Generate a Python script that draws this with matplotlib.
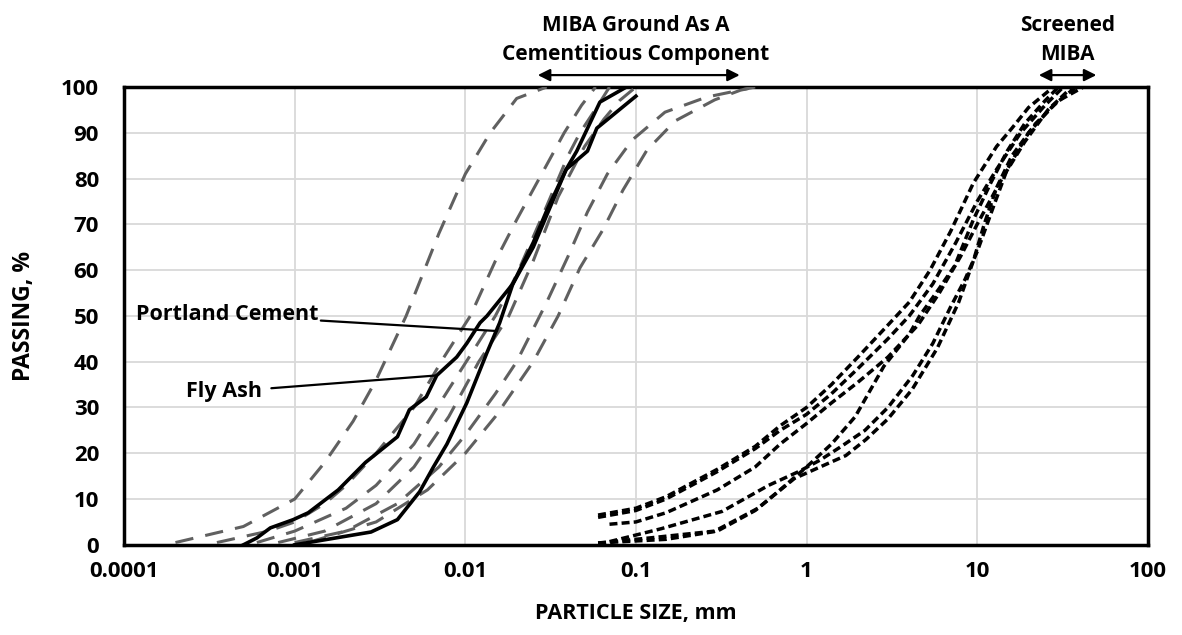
import numpy as np
import matplotlib.pyplot as plt

plt.rcParams['font.family'] = ['Open Sans', 'DejaVu Sans']
plt.rcParams['font.weight'] = 'bold'

# particle size (mm) / passing (%) pairs
portland_x = [0.001, 0.0028, 0.004, 0.0054, 0.0065, 0.0078, 0.0102, 0.0134, 0.0159, 0.019, 0.025, 0.03, 0.039, 0.045, 0.0615, 0.088]
portland_y = [0, 2.8, 5.5, 11.6, 17, 22, 31, 42, 48.5, 57, 66, 73, 82, 86, 96.7, 100]
flyash_x = [0.0005, 0.0006, 0.00072, 0.00098, 0.0012, 0.0018, 0.0026, 0.004, 0.0047, 0.0059, 0.0068, 0.0089, 0.0102, 0.0122, 0.0134, 0.019, 0.025, 0.03, 0.039, 0.052, 0.059, 0.1]
flyash_y = [0, 1.5, 3.7, 5.5, 7, 12, 18, 23.6, 29.5, 32.3, 37, 41, 44, 48.5, 50, 57, 65, 72, 82, 86, 91, 98]

ground_x = [
    [0.0002, 0.0005, 0.001, 0.0015, 0.0022, 0.003, 0.0045, 0.007, 0.01, 0.014, 0.02, 0.03],
    [0.00035, 0.0007, 0.001, 0.0015, 0.002, 0.003, 0.005, 0.0075, 0.0107, 0.015, 0.02, 0.03, 0.038, 0.048, 0.058],
    [0.0006, 0.001, 0.002, 0.003, 0.005, 0.008, 0.015, 0.02, 0.03, 0.04, 0.047, 0.06, 0.07],
    [0.0008, 0.0015, 0.003, 0.005, 0.008, 0.012, 0.018, 0.025, 0.035, 0.05, 0.065, 0.08, 0.1],
    [0.001, 0.002, 0.004, 0.007, 0.01, 0.015, 0.02, 0.03, 0.04, 0.052, 0.068, 0.095, 0.148, 0.26, 0.5],
    [0.0012, 0.003, 0.006, 0.01, 0.015, 0.025, 0.035, 0.047, 0.064, 0.084, 0.116, 0.17, 0.29, 0.41, 0.5],
]
ground_y = [
    [0.5, 4, 10, 18, 27, 36, 50, 68, 81, 90, 97.5, 100],
    [0.5, 3, 5, 9, 13, 20, 30, 41, 50, 62, 71, 83, 90, 96, 100],
    [0.5, 3, 8, 13, 22, 34, 50, 59, 74, 85, 90, 96, 100],
    [0.5, 3, 9, 17, 28, 40, 50, 62, 76, 87, 93, 97, 100],
    [0.5, 3, 9, 17, 24, 33, 40, 53, 63, 72.7, 81, 88.4, 94.5, 97.8, 100],
    [0.5, 5, 12, 20, 28, 40, 50, 60.5, 68.8, 77.5, 86.2, 92.6, 97.2, 99.3, 100],
]

screened_x = [
    [0.06, 0.1, 0.15, 0.3, 0.5, 0.7, 1, 1.4, 2, 3, 4, 5.3, 7, 9.5, 13, 16, 20, 28],
    [0.06, 0.1, 0.15, 0.3, 0.5, 0.7, 1, 1.4, 2, 3, 4, 5.5, 7.5, 10, 13, 18, 25, 32],
    [0.07, 0.1, 0.15, 0.3, 0.5, 0.7, 1, 1.4, 2, 3, 4.5, 6, 8, 10, 14, 19, 26, 36],
    [0.06, 0.15, 0.3, 0.5, 0.7, 1, 1.4, 1.93, 2.84, 4, 4.6, 6, 7.4, 9.5, 12, 15, 19, 25, 30],
    [0.07, 0.14, 0.32, 0.6, 0.9, 1.2, 1.6, 2.2, 3, 4.2, 5.5, 7, 8.5, 10, 12.5, 15, 20, 28, 38],
    [0.06, 0.12, 0.29, 0.52, 0.85, 1.2, 1.7, 2.23, 3, 4.17, 5.85, 7.8, 9.5, 11, 13, 16, 22, 30, 42],
]
screened_y = [
    [6.5, 8, 10.5, 16.5, 21.5, 26, 30, 35, 41, 48, 53, 60, 68.5, 79, 87, 91, 95.5, 100],
    [6, 7.5, 10, 16, 21, 25, 28.5, 33, 38.5, 45, 50, 57, 66, 75, 82, 90, 96, 100],
    [4.5, 5, 7, 12, 17, 22, 26.5, 31, 35.5, 41, 48, 55, 63, 70, 80, 88, 95, 100],
    [0.4, 1.2, 3, 7.5, 12, 17, 22, 28, 39, 46, 50, 56, 61, 71, 79, 86, 92, 97, 100],
    [0.7, 3.5, 7.3, 13, 16, 18.5, 21.5, 25, 30, 37, 44, 52, 58, 64, 74, 82, 90, 96, 100],
    [0.4, 1.5, 3, 8, 14.5, 17, 19.5, 23, 27.5, 34, 43, 53, 62, 70, 78, 85, 92, 97, 100],
]

fig = plt.figure(figsize=(11.82, 6.35), dpi=100)
ax = fig.add_axes([0.105, 0.142, 0.866, 0.721])

for gx, gy in zip(ground_x, ground_y):
    ax.plot(gx, gy, color="#606060", lw=2.2, dashes=(6, 4), zorder=3)
for sx, sy in zip(screened_x, screened_y):
    ax.plot(sx, sy, color="black", lw=2.5, dashes=(2.3, 1.2), zorder=3)
ax.plot(portland_x, portland_y, color="black", lw=2.6, zorder=4)
ax.plot(flyash_x, flyash_y, color="black", lw=2.6, zorder=4)

ax.set_xscale("log")
ax.set_xlim(0.0001, 100)
ax.set_ylim(0, 100)
ax.set_yticks(range(0, 101, 10))
ax.set_xticks([0.0001, 0.001, 0.01, 0.1, 1, 10, 100])
ax.set_xticklabels(["0.0001", "0.001", "0.01", "0.1", "1", "10", "100"])
ax.minorticks_off()
ax.tick_params(length=0, labelsize=16)
ax.tick_params(axis="x", pad=12)
ax.tick_params(axis="y", pad=18)
for lab in ax.get_xticklabels() + ax.get_yticklabels():
    lab.set_fontweight("bold")
ax.grid(True, color="#d9d9d9", lw=1.3, zorder=0)
ax.set_axisbelow(True)
for s in ax.spines.values():
    s.set_linewidth(2.5)

ax.set_xlabel("PARTICLE SIZE, mm", fontsize=15.5, fontweight="bold")
ax.set_ylabel("PASSING, %", fontsize=16.5, fontweight="bold")
ax.xaxis.set_label_coords(0.5, -0.128)
ax.yaxis.set_label_coords(-0.086, 0.5)

# leaders
ax.annotate("Portland Cement", xy=(0.0153, 46.7), xytext=(0.00137, 50.2),
            ha="right", va="center", fontsize=15.5, fontweight="bold",
            arrowprops=dict(arrowstyle="-", color="black", lw=1.6, shrinkA=0, shrinkB=0))
ax.annotate("Fly Ash", xy=(0.0068, 37), xytext=(0.00064, 33.4),
            ha="right", va="center", fontsize=15.5, fontweight="bold",
            arrowprops=dict(arrowstyle="-", color="black", lw=1.6, shrinkA=5, shrinkB=0))

# range arrows above the plot
ax.annotate("", xy=(0.0266, 102.6), xytext=(0.406, 102.6), annotation_clip=False,
            arrowprops=dict(arrowstyle="<|-|>", color="black", lw=1.6, mutation_scale=18, shrinkA=0, shrinkB=0))
ax.text(0.1, 104.8, "MIBA Ground As A\nCementitious Component", ha="center", va="bottom",
        fontsize=15, fontweight="bold", linespacing=1.5)
ax.annotate("", xy=(23, 102.6), xytext=(50, 102.6), annotation_clip=False,
            arrowprops=dict(arrowstyle="<|-|>", color="black", lw=1.6, mutation_scale=18, shrinkA=0, shrinkB=0))
ax.text(34, 104.8, "Screened\nMIBA", ha="center", va="bottom",
        fontsize=15, fontweight="bold", linespacing=1.5)

fig.savefig("out.png", dpi=100)
